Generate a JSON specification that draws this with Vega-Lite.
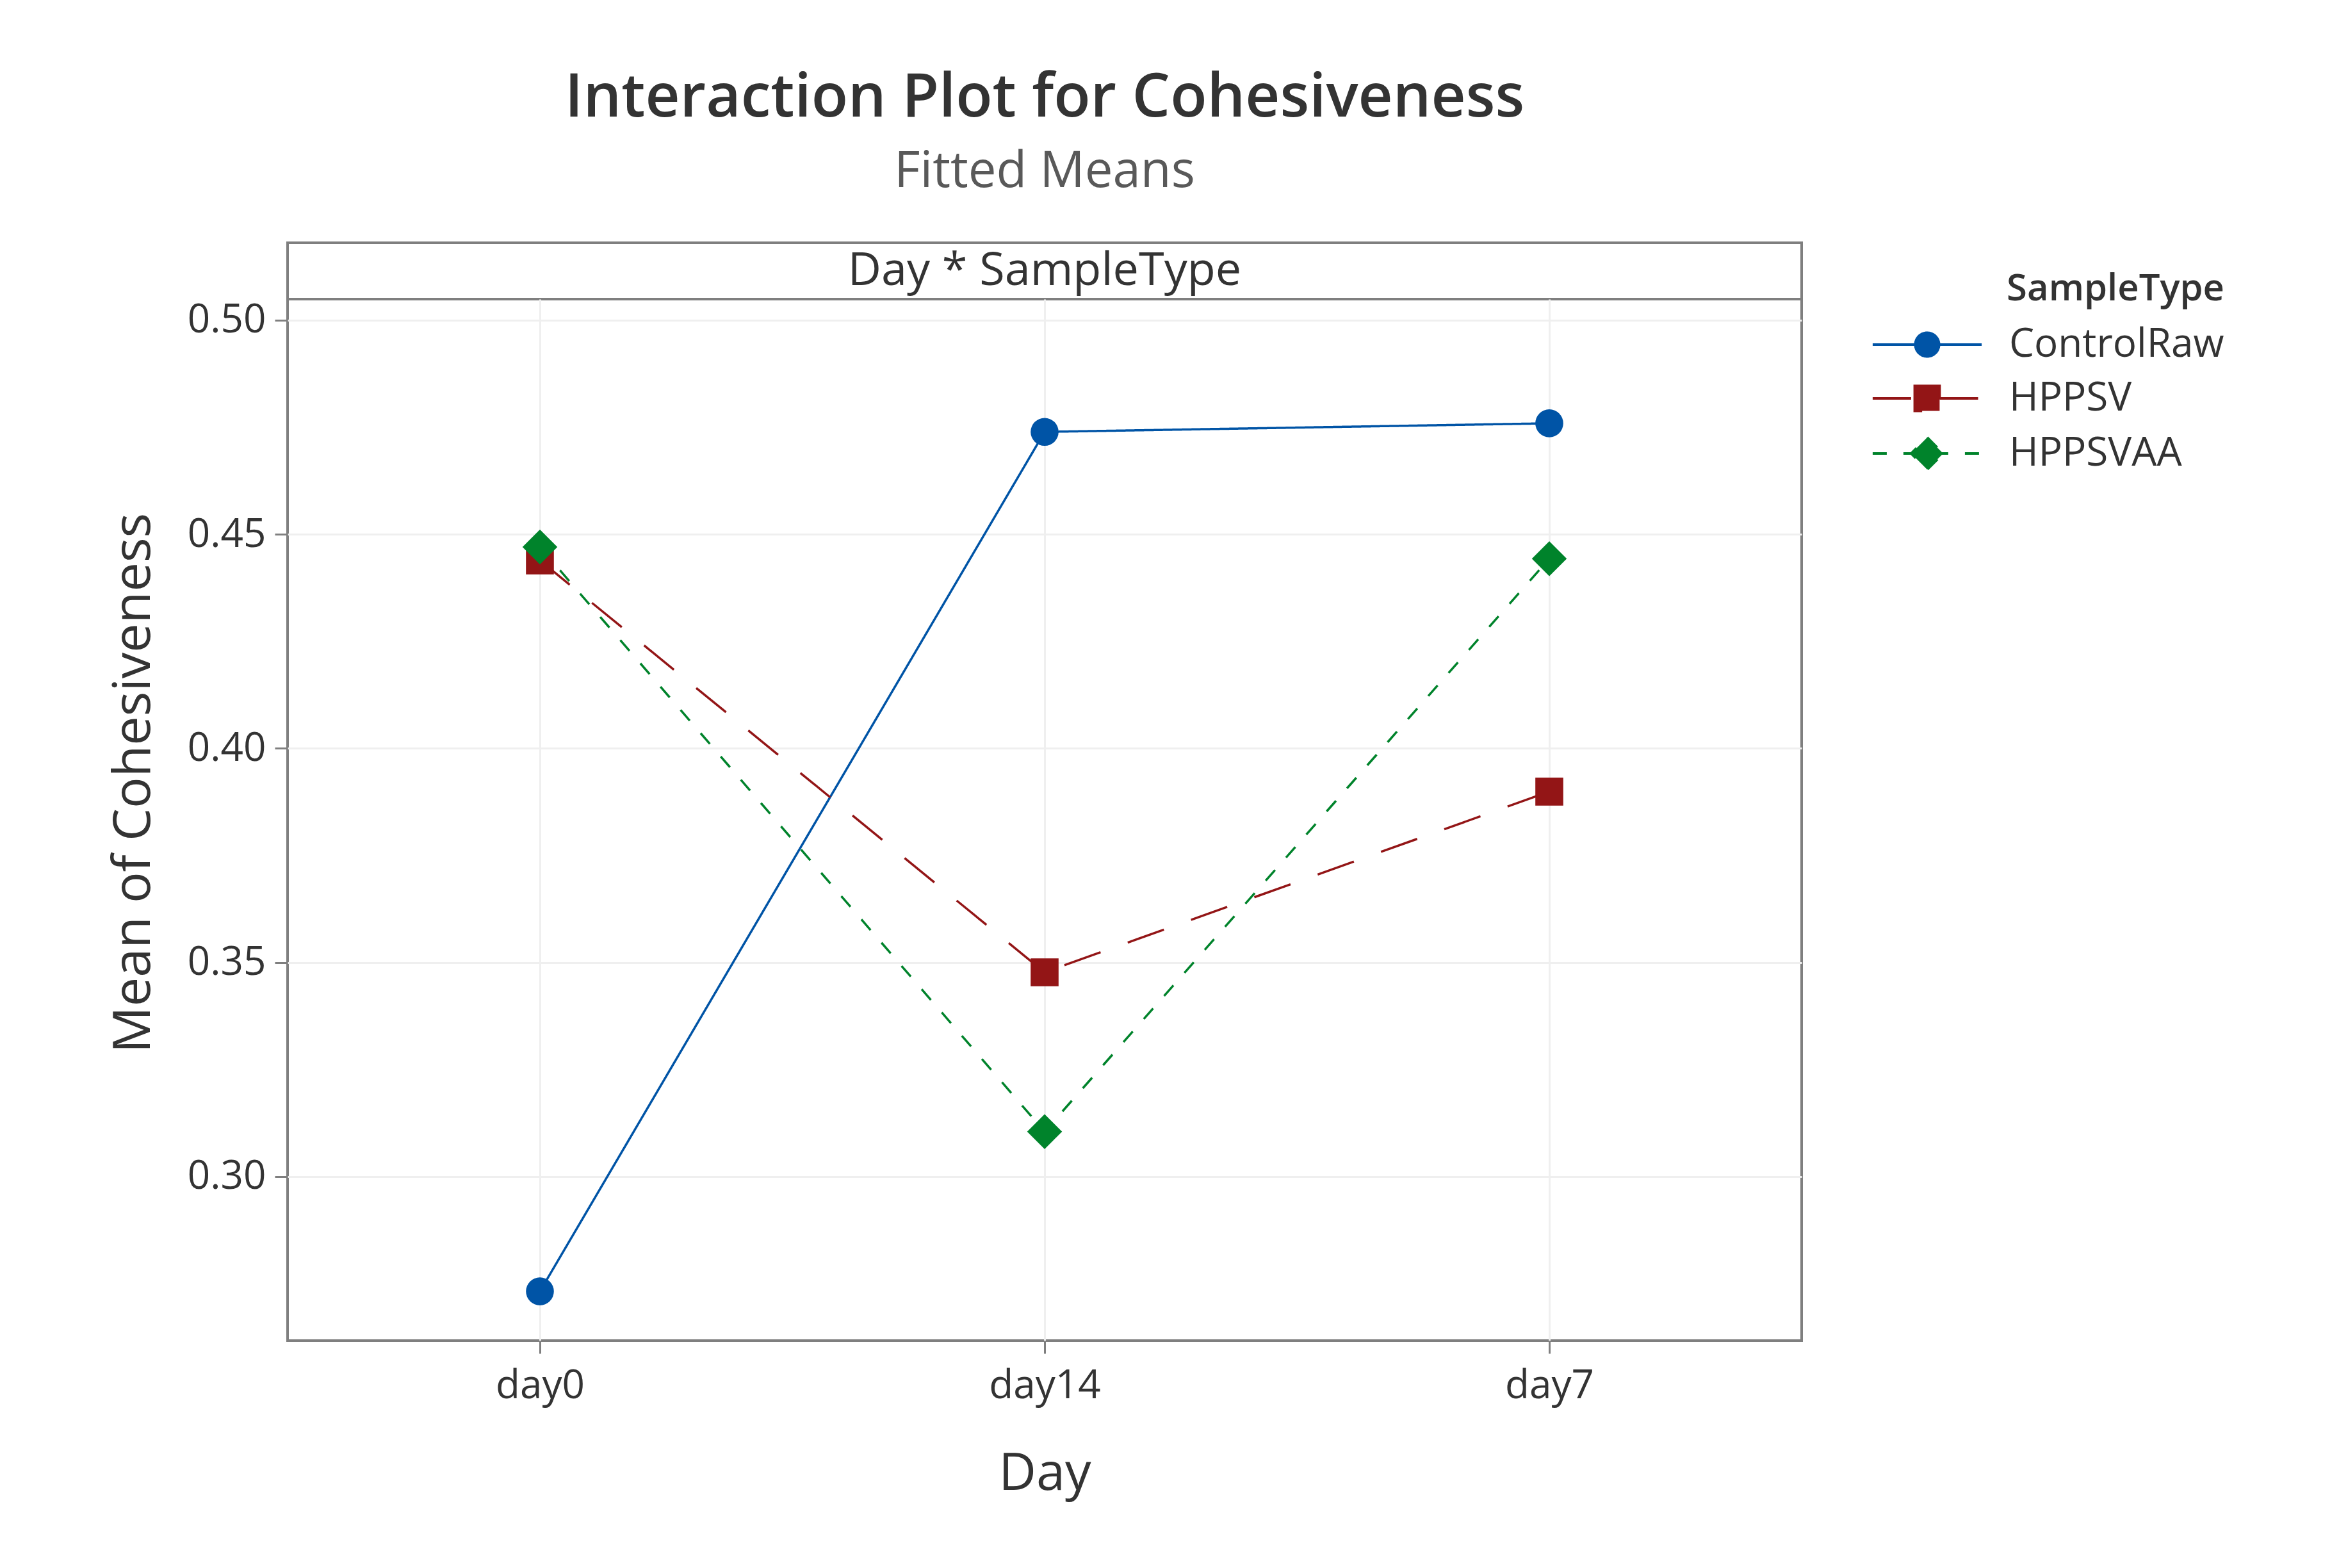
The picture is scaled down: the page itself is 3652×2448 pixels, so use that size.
{
  "$schema": "https://vega.github.io/schema/vega-lite/v6.json",
  "background": "white",
  "padding": {"left": 166, "top": 105, "right": 40, "bottom": 40},
  "config": {
    "font": "Open Sans",
    "view": {"stroke": "#7f7f7f", "strokeWidth": 4},
    "axis": {
      "domain": false,
      "grid": true,
      "gridColor": "#efefef",
      "gridWidth": 3,
      "tickColor": "#7f7f7f",
      "tickWidth": 3,
      "tickSize": 20,
      "labelFontSize": 62,
      "labelColor": "#333333",
      "labelPadding": 14,
      "titleFontSize": 81,
      "titleFontWeight": "normal",
      "titleColor": "#333333"
    },
    "axisX": {"titlePadding": 67, "labelPadding": 20},
    "axisY": {"titlePadding": 42}
  },
  "spacing": 0,
  "bounds": "flush",
  "vconcat": [
    {
      "width": 2364,
      "height": 88,
      "title": {
        "text": "Interaction Plot for Cohesiveness",
        "subtitle": "Fitted Means",
        "anchor": "middle",
        "frame": "group",
        "fontSize": 94,
        "fontWeight": 600,
        "color": "#333333",
        "subtitleFontSize": 78,
        "subtitleColor": "#595959",
        "subtitlePadding": 28,
        "offset": 70
      },
      "data": {"values": [{"label": "Day * SampleType", "px": 0.5, "py": 0.5}]},
      "mark": {"type": "text", "fontSize": 72, "color": "#333333"},
      "encoding": {
        "x": {"field": "px", "type": "quantitative", "scale": {"domain": [0, 1]}, "axis": null},
        "y": {"field": "py", "type": "quantitative", "scale": {"domain": [0, 1]}, "axis": null},
        "text": {"field": "label", "type": "nominal"}
      }
    },
    {
      "width": 2364,
      "height": 1626,
      "data": {
        "values": [
          {"Day": "day0", "SampleType": "ControlRaw", "Mean": 0.2732},
          {"Day": "day14", "SampleType": "ControlRaw", "Mean": 0.4739},
          {"Day": "day7", "SampleType": "ControlRaw", "Mean": 0.4759},
          {"Day": "day0", "SampleType": "HPPSV", "Mean": 0.4439},
          {"Day": "day14", "SampleType": "HPPSV", "Mean": 0.3477},
          {"Day": "day7", "SampleType": "HPPSV", "Mean": 0.3899},
          {"Day": "day0", "SampleType": "HPPSVAA", "Mean": 0.4470},
          {"Day": "day14", "SampleType": "HPPSVAA", "Mean": 0.3105},
          {"Day": "day7", "SampleType": "HPPSVAA", "Mean": 0.4443}
        ]
      },
      "encoding": {
        "x": {
          "field": "Day",
          "type": "nominal",
          "sort": ["day0", "day14", "day7"],
          "scale": {"type": "point", "padding": 0.5},
          "axis": {"title": "Day", "labelAngle": 0}
        },
        "y": {
          "field": "Mean",
          "type": "quantitative",
          "scale": {"domain": [0.2617, 0.5049], "nice": false, "zero": false},
          "axis": {
            "title": "Mean of Cohesiveness",
            "values": [0.30, 0.35, 0.40, 0.45, 0.50],
            "format": ".2f",
            "titleY": 755
          }
        },
        "color": {
          "field": "SampleType",
          "type": "nominal",
          "scale": {
            "domain": ["ControlRaw", "HPPSV", "HPPSVAA"],
            "range": ["#0054A6", "#931516", "#00832B"]
          },
          "legend": {
            "title": "SampleType",
            "orient": "none",
            "legendX": 2529,
            "legendY": 44,
            "padding": 0,
            "titleAnchor": "end",
            "titleFontSize": 58,
            "titleFontWeight": 600,
            "titleColor": "#333333",
            "titlePadding": 26,
            "titleLimit": 0,
            "labelFontSize": 62,
            "labelColor": "#333333",
            "labelLimit": 0,
            "labelOffset": 97,
            "rowPadding": 22,
            "symbolSize": 1369,
            "symbolStrokeWidth": 4,
            "encode": {
              "symbols": {
                "update": {
                  "shape": {"signal": "datum.value === 'ControlRaw' ? 'M-4.6,0H4.6M-1,0A1,1,0,1,1,1,0A1,1,0,1,1,-1,0Z' : datum.value === 'HPPSV' ? 'M-4.6,0H4.3M-1.05,-1.05H1.05V1.05H-1.05Z' : 'M-4.6,0H4.6M0,-1.35L1.35,0L0,1.35L-1.35,0Z'"},
                  "strokeDash": {"signal": "datum.value === 'HPPSV' ? [62, 45] : datum.value === 'HPPSVAA' ? [30, 19] : [1, 0]"},
                  "fill": {"scale": "color", "field": "value"},
                  "stroke": {"scale": "color", "field": "value"},
                  "strokeWidth": {"value": 4},
                  "size": {"value": 1369},
                  "opacity": {"value": 1},
                  "fillOpacity": {"value": 1}
                }
              }
            }
          }
        }
      },
      "layer": [
        {
          "mark": {"type": "line", "strokeWidth": 3.5},
          "encoding": {
            "strokeDash": {
              "field": "SampleType",
              "type": "nominal",
              "scale": {
                "domain": ["ControlRaw", "HPPSV", "HPPSVAA"],
                "range": [[1, 0], [60, 45], [22, 26]]
              },
              "legend": null
            }
          }
        },
        {
          "transform": [{"filter": "datum.SampleType === 'ControlRaw'"}],
          "mark": {"type": "point", "filled": true, "shape": "circle", "size": 1900, "opacity": 1}
        },
        {
          "transform": [{"filter": "datum.SampleType === 'HPPSV'"}],
          "mark": {"type": "point", "filled": true, "shape": "square", "size": 1900, "opacity": 1}
        },
        {
          "transform": [{"filter": "datum.SampleType === 'HPPSVAA'"}],
          "mark": {"type": "point", "filled": true, "shape": "M0,-1.25L1.25,0L0,1.25L-1.25,0Z", "size": 1900, "opacity": 1}
        }
      ]
    }
  ]
}
